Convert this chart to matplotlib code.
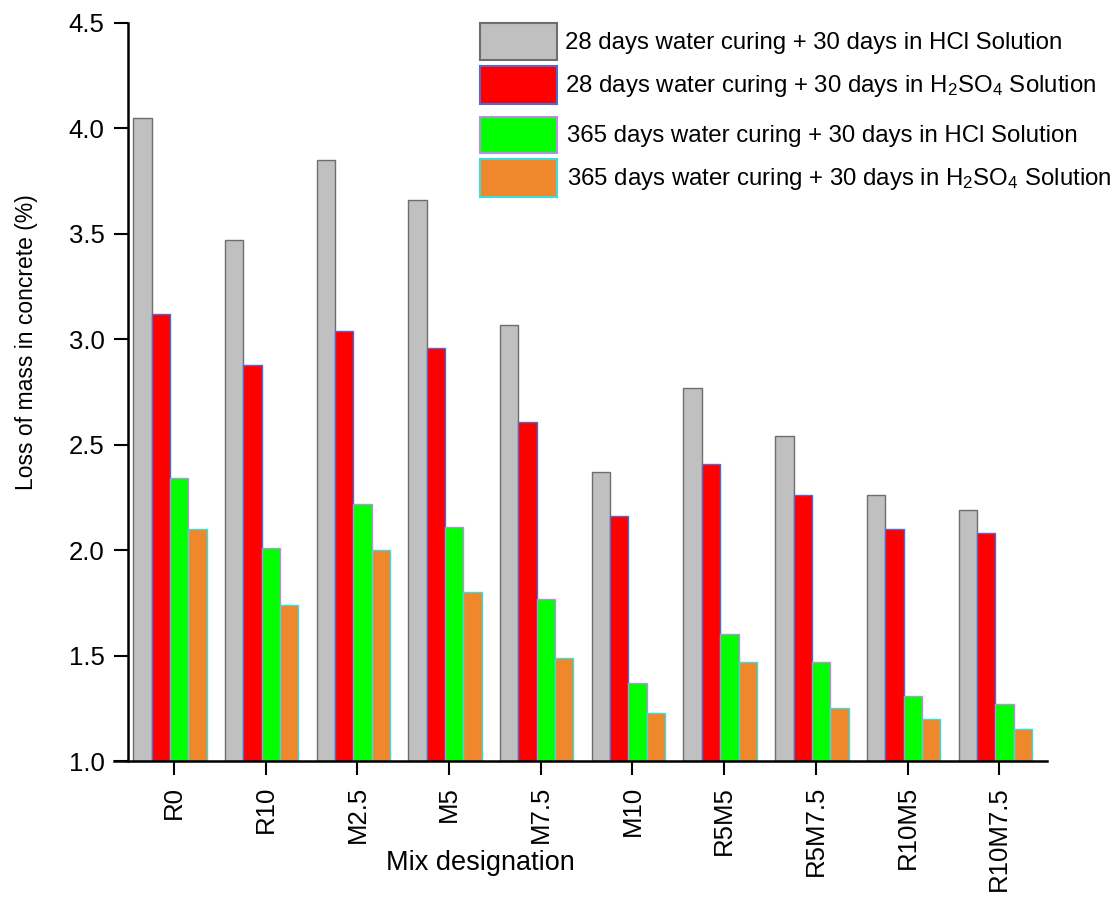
import matplotlib
matplotlib.use("Agg")
import matplotlib.pyplot as plt
from matplotlib.patches import Rectangle
import numpy as np

plt.rcParams['font.family'] = ['Liberation Sans', 'DejaVu Sans']
plt.rcParams['mathtext.fontset'] = 'custom'
plt.rcParams['mathtext.rm'] = 'Liberation Sans'
plt.rcParams['mathtext.it'] = 'Liberation Sans:italic'
plt.rcParams['mathtext.bf'] = 'Liberation Sans:bold'
plt.rcParams['mathtext.default'] = 'regular'

# Mix designations
mixes = ["R0", "R10", "M2.5", "M5", "M7.5", "M10", "R5M5", "R5M7.5", "R10M5", "R10M7.5"]

# Loss of mass (%) for each exposure regime
hcl_28 = [4.05, 3.47, 3.85, 3.66, 3.07, 2.37, 2.77, 2.54, 2.26, 2.19]
h2so4_28 = [3.12, 2.88, 3.04, 2.96, 2.61, 2.16, 2.41, 2.26, 2.10, 2.08]
hcl_365 = [2.34, 2.01, 2.22, 2.11, 1.77, 1.37, 1.60, 1.47, 1.31, 1.27]
h2so4_365 = [2.10, 1.74, 2.00, 1.80, 1.49, 1.23, 1.47, 1.25, 1.20, 1.15]

series_labels = [
    "28 days water curing + 30 days in HCl Solution",
    "28 days water curing + 30 days in H$_2$SO$_4$ Solution",
    "365 days water curing + 30 days in HCl Solution",
    "365 days water curing + 30 days in H$_2$SO$_4$ Solution",
]
series = [hcl_28, h2so4_28, hcl_365, h2so4_365]
faces = ["#C0C0C0", "#FF0000", "#00FF00", "#EF882C"]
edges = ["#6E6E6E", "#4F6BD0", "#B592E0", "#3FDCDC"]

W, H = 1118, 897
fig = plt.figure(figsize=(W / 100, H / 100), dpi=100)

# axes box in pixel terms
x0, x1 = 114, 1047
y_top, y_bot = 23, 761
ax = fig.add_axes([x0 / W, 1 - y_bot / H, (x1 - x0) / W, (y_bot - y_top) / H])

x = np.arange(len(mixes))
bar_w = 0.2
group_shift = -0.044
for k, (vals, fc, ec) in enumerate(zip(series, faces, edges)):
    ax.bar(x + group_shift + (k - 1.5) * bar_w, np.array(vals) - 1.0, bottom=1.0,
           width=bar_w, color=fc, edgecolor=ec, linewidth=1.0, zorder=2)

ax.set_xlim(-0.654, 9.52)
ax.set_ylim(1.0, 4.5)

for s in ["top", "right"]:
    ax.spines[s].set_visible(False)
ax.spines["left"].set_position(("data", -0.5))
ax.spines["left"].set_linewidth(1.8)
ax.spines["bottom"].set_linewidth(1.8)
ax.spines["left"].set_zorder(3)

ax.set_yticks(np.arange(1.0, 4.51, 0.5))
ax.set_yticklabels([f"{v:.1f}" for v in np.arange(1.0, 4.51, 0.5)])
ax.set_xticks(x)
ax.set_xticklabels(mixes, rotation=90)
ax.tick_params(axis="y", direction="out", length=10, width=1.5, pad=7, labelsize=18.5)
ax.tick_params(axis="x", direction="out", length=10, width=1.5, pad=8, labelsize=18.5)

fig.text(27 / W, 1 - 342 / H, "Loss of mass in concrete (%)", rotation=90,
         ha="center", va="center", fontsize=16.5)
fig.text(480 / W, 1 - 863 / H, "Mix designation", ha="center", va="center", fontsize=19.5)

# Legend boxes and labels
box_rows = [(23, 60), (66, 104), (117, 153), (159, 197)]
text_x = [565, 565, 567, 567]
for (yt, yb), lab, fc, ec, tx in zip(box_rows, series_labels, faces, edges, text_x):
    fig.patches.append(Rectangle((480 / W, 1 - yb / H), (557 - 480) / W, (yb - yt) / H,
                                 transform=fig.transFigure, facecolor=fc, edgecolor=ec,
                                 linewidth=1.5))
    fig.text(tx / W, 1 - ((yt + yb) / 2 + 1) / H, lab, ha="left", va="center", fontsize=17.3)

fig.savefig("out.png", dpi=100)
